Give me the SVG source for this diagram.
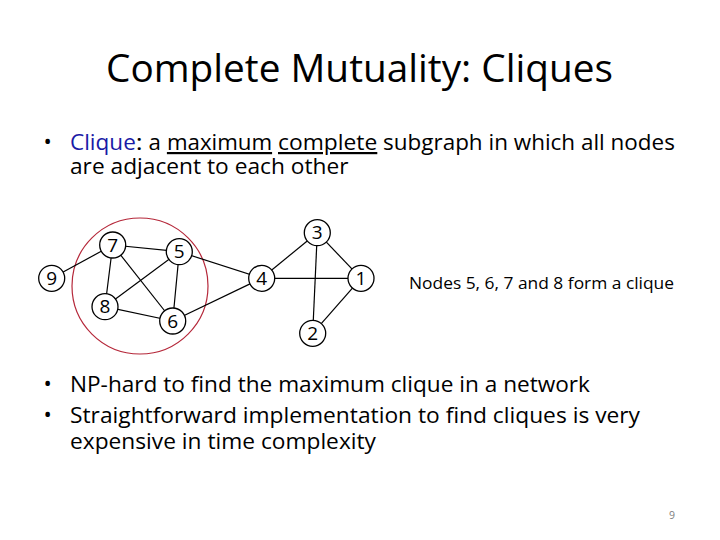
<svg xmlns="http://www.w3.org/2000/svg" width="720" height="540" viewBox="0 0 720 540">
<style>
.t{font-family:"Open Sans","Noto Sans","Liberation Sans",sans-serif;fill:#000}
.title{font-size:38px}
.body{font-size:22px}
.note{font-size:16px}
.ul{text-decoration:underline}
.edge{stroke:#000;stroke-width:1.2;fill:none}
.node circle{fill:#fff;stroke:#000;stroke-width:1.3}
.node text{font-family:"Open Sans","Noto Sans","Liberation Sans",sans-serif;font-size:19px;text-anchor:middle;fill:#000}
</style>
<rect width="720" height="540" fill="#fff"/>
<text class="t title" x="106" y="82" textLength="507" lengthAdjust="spacingAndGlyphs">Complete Mutuality: Cliques</text>
<text class="t body" x="43.5" y="149">•</text>
<text class="t body" x="70" y="150" textLength="65.8" lengthAdjust="spacingAndGlyphs" style="fill:#1a1aa6">Clique</text>
<text class="t body" x="135.8" y="150" textLength="6.9" lengthAdjust="spacingAndGlyphs">:</text>
<text class="t body" x="148.6" y="150" textLength="12.4" lengthAdjust="spacingAndGlyphs">a</text>
<text class="t body ul" x="166.9" y="150" textLength="105.2" lengthAdjust="spacingAndGlyphs">maximum</text>
<text class="t body ul" x="278" y="150" textLength="99.3" lengthAdjust="spacingAndGlyphs">complete</text>
<text class="t body" x="383.1" y="150" textLength="291.8" lengthAdjust="spacingAndGlyphs">subgraph in which all nodes</text>
<text class="t body" x="70" y="174" textLength="278.5" lengthAdjust="spacingAndGlyphs">are adjacent to each other</text>
<text class="t body" x="43.5" y="391">•</text>
<text class="t body" x="70" y="392" textLength="520" lengthAdjust="spacingAndGlyphs">NP-hard to find the maximum clique in a network</text>
<text class="t body" x="43.5" y="422">•</text>
<text class="t body" x="70" y="423" textLength="570" lengthAdjust="spacingAndGlyphs">Straightforward implementation to find cliques is very</text>
<text class="t body" x="70" y="449" textLength="306" lengthAdjust="spacingAndGlyphs">expensive in time complexity</text>
<text class="t note" x="409" y="289" textLength="265" lengthAdjust="spacingAndGlyphs">Nodes 5, 6, 7 and 8 form a clique</text>
<text class="t" x="669" y="519" font-size="10.5" style="fill:#808080">9</text>
<g id="clique-circle"><circle cx="140" cy="286" r="68" fill="none" stroke="#b5283a" stroke-width="1.2"/></g>
<g id="connectors">
<line class="edge" x1="51.7" y1="278.3" x2="112.7" y2="245"/>
<line class="edge" x1="112.7" y1="245" x2="179.3" y2="251.7"/>
<line class="edge" x1="112.7" y1="245" x2="105" y2="306.7"/>
<line class="edge" x1="112.7" y1="245" x2="172.7" y2="321"/>
<line class="edge" x1="179.3" y1="251.7" x2="105" y2="306.7"/>
<line class="edge" x1="179.3" y1="251.7" x2="172.7" y2="321"/>
<line class="edge" x1="105" y1="306.7" x2="172.7" y2="321"/>
<line class="edge" x1="179.3" y1="251.7" x2="261.7" y2="278.3"/>
<line class="edge" x1="172.7" y1="321" x2="261.7" y2="278.3"/>
<line class="edge" x1="261.7" y1="278.3" x2="317.3" y2="232.7"/>
<line class="edge" x1="261.7" y1="278.3" x2="361" y2="278.3"/>
<line class="edge" x1="317.3" y1="232.7" x2="361" y2="278.3"/>
<line class="edge" x1="317.3" y1="232.7" x2="312.7" y2="333.3"/>
<line class="edge" x1="312.7" y1="333.3" x2="361" y2="278.3"/>
</g>
<g id="node-9" class="node"><circle cx="51.7" cy="278.3" r="13"/><text x="51.7" y="285">9</text></g>
<g id="node-7" class="node"><circle cx="112.7" cy="245" r="13"/><text x="112.7" y="251.7">7</text></g>
<g id="node-5" class="node"><circle cx="179.3" cy="251.7" r="13"/><text x="179.3" y="258.4">5</text></g>
<g id="node-8" class="node"><circle cx="105" cy="306.7" r="13"/><text x="105" y="313.4">8</text></g>
<g id="node-6" class="node"><circle cx="172.7" cy="321" r="13"/><text x="172.7" y="327.7">6</text></g>
<g id="node-4" class="node"><circle cx="261.7" cy="278.3" r="13"/><text x="261.7" y="285">4</text></g>
<g id="node-3" class="node"><circle cx="317.3" cy="232.7" r="13"/><text x="317.3" y="239.4">3</text></g>
<g id="node-1" class="node"><circle cx="361" cy="278.3" r="13"/><text x="361" y="285">1</text></g>
<g id="node-2" class="node"><circle cx="312.7" cy="333.3" r="13"/><text x="312.7" y="340">2</text></g>
</svg>
